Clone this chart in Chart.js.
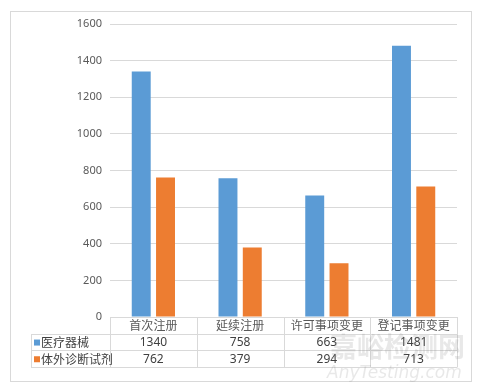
<!DOCTYPE html>
<html><head><meta charset="utf-8">
<script src="https://cdn.jsdelivr.net/npm/chart.js@4"></script>
<style>html,body{margin:0;padding:0;background:#fff}#wrap{width:478px;height:390px;position:relative}</style>
</head><body><div id="wrap"><canvas id="c" width="478" height="390"></canvas></div>
<script>
const categories = ['首次注册','延续注册','许可事项变更','登记事项变更'];
const seriesNames = ['医疗器械','体外诊断试剂'];
const medicalDevices = [1340, 758, 663, 1481];
const ivdReagents = [762, 379, 294, 713];
const yTicks = [0,200,400,600,800,1000,1200,1400,1600];
const colors = ['#5B9BD5','#ED7D31'];
const CJK = '"Noto Sans CJK SC", "Noto Sans", sans-serif';

const tablePlugin = {
  id:'tablePlugin',
  afterDraw(chart){
    const ctx = chart.ctx, x = chart.scales.x, a = chart.chartArea;
    const left = a.left, right = a.right, top = a.bottom;
    const rowH = 16.7, labL = 31;
    const r1 = top + rowH, r2 = r1 + rowH, r3 = r2 + rowH;
    ctx.save();
    ctx.strokeStyle = '#d9d9d9'; ctx.lineWidth = 1;
    ctx.strokeRect(10.5, 11.5, 461, 370);
    ctx.beginPath();
    ctx.moveTo(left, Math.round(top)+0.5); ctx.lineTo(right, Math.round(top)+0.5);
    [r1, r2, r3].forEach(y=>{ ctx.moveTo(labL, Math.round(y)+0.5); ctx.lineTo(right, Math.round(y)+0.5); });
    const n = categories.length, w = (right-left)/n;
    for (let i=0;i<=n;i++){ const xx = Math.round(left + i*w)+0.5; ctx.moveTo(xx, top); ctx.lineTo(xx, Math.round(r3)+0.5); }
    ctx.moveTo(labL+0.5, Math.round(r1)); ctx.lineTo(labL+0.5, Math.round(r3)+0.5);
    ctx.stroke();
    ctx.textBaseline = 'middle';
    ctx.textAlign = 'center';
    ctx.font = '12px ' + CJK;
    ctx.fillStyle = '#595959';
    categories.forEach((c,i)=>{ ctx.fillText(c, x.getPixelForValue(i), top + rowH/2 + 0.5); });
    const data = [medicalDevices, ivdReagents];
    data.forEach((arr, k)=>{
      const yc = top + rowH*(k+1) + rowH/2 + 0.5;
      ctx.fillStyle = '#404040';
      ctx.textAlign = 'center';
      ctx.font = '12px "Noto Sans", sans-serif';
      arr.forEach((v,i)=>{ ctx.fillText(String(v), x.getPixelForValue(i), yc); });
      ctx.fillStyle = colors[k];
      ctx.fillRect(34, yc-3, 6, 6);
      ctx.fillStyle = '#404040';
      ctx.textAlign = 'left';
      ctx.font = '12px ' + CJK;
      ctx.fillText(seriesNames[k], 41, yc);
    });
    ctx.globalAlpha = 0.18;
    ctx.fillStyle = '#808080';
    ctx.textAlign = 'left';
    ctx.font = 'bold 27px ' + CJK;
    ctx.fillText('嘉峪检测网', 330, 347);
    ctx.font = 'italic 17px "DejaVu Sans", sans-serif';
    ctx.fillText('AnyTesting.com', 327, 374);
    ctx.restore();
  }
};

new Chart(document.getElementById('c'), {
  type:'bar',
  data:{
    labels: categories,
    datasets:[
      {label: seriesNames[0], data: medicalDevices, backgroundColor: colors[0]},
      {label: seriesNames[1], data: ivdReagents, backgroundColor: colors[1]}
    ]
  },
  options:{
    responsive:false, animation:false,
    layout:{padding:{left:0, right:21, top:24, bottom:73}},
    datasets:{bar:{categoryPercentage:0.56, barPercentage:0.78}},
    plugins:{legend:{display:false}, tooltip:{enabled:false}},
    scales:{
      x:{afterFit(s){ s.height = 0; }, ticks:{display:false}, grid:{display:false}, border:{display:false}},
      y:{min:0, max:1600,
         afterFit(s){ s.width = 110; },
         afterBuildTicks(s){ s.ticks = yTicks.map(v=>({value:v})); },
         ticks:{color:'#595959', font:{size:11, family:'"Noto Sans", sans-serif'}, padding:8,
                callback:(v)=>String(v)},
         grid:{color:'#d9d9d9', drawTicks:false}, border:{display:false}}
    }
  },
  plugins:[tablePlugin]
});
</script></body></html>
